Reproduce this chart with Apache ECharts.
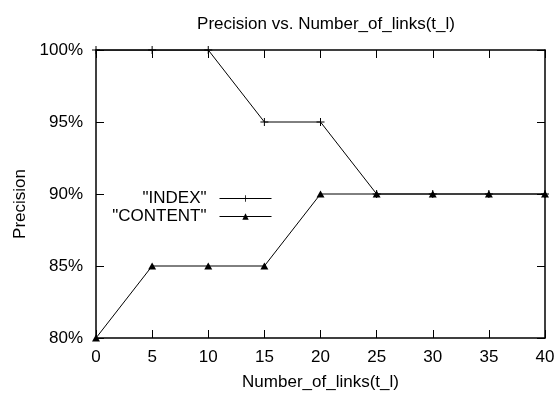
<!DOCTYPE html>
<html>
<head>
<meta charset="utf-8">
<script src="https://cdn.jsdelivr.net/npm/echarts@6/dist/echarts.min.js"></script>
<style>
  html, body { margin: 0; padding: 0; background: #fff; }
  #chart { width: 558px; height: 396px; }
</style>
</head>
<body>
<div id="chart"></div>
<script>
// number of links (t_l)
const links = [0, 5, 10, 15, 20, 25, 30, 35, 40]
const indexPrecision = [100, 100, 100, 95, 95, 90, 90, 90, 90]
const contentPrecision = [80, 85, 85, 85, 90, 90, 90, 90, 90]

const FONT = 'Liberation Sans, Arial, Helvetica, sans-serif'
const FS = 17
const PLUS = 'path://M0,3.5H8V4.5H0Z M3.5,0H4.5V8H3.5Z'

const chart = echarts.init(document.getElementById('chart'))

const pairs = (ys) => links.map((x, i) => [x, ys[i]])

const axisBase = {
  axisLine: { show: true, onZero: false, lineStyle: { color: '#000', width: 1.5 } },
  axisTick: { show: true, inside: true, length: 8, lineStyle: { color: '#000', width: 1 } },
  splitLine: { show: false }
}

chart.setOption({
  backgroundColor: '#fff',
  animation: false,
  textStyle: { fontFamily: FONT },
  title: {
    text: 'Precision vs. Number_of_links(t_l)',
    left: 321,
    top: 11,
    textAlign: 'center',
    textStyle: { fontFamily: FONT, fontSize: FS, fontWeight: 'normal', color: '#000' }
  },
  legend: {
    orient: 'vertical',
    right: 281,
    top: 185,
    align: 'right',
    itemWidth: 52,
    itemHeight: 8,
    itemGap: 1,
    selectedMode: false,
    lineStyle: { width: 1, color: '#000' },
    textStyle: { fontFamily: FONT, fontSize: FS, color: '#000', padding: [0, 8, 0, 0] },
    data: ['"INDEX"', '"CONTENT"']
  },
  grid: { left: 96, right: 13, top: 50, bottom: 54 },
  xAxis: [
    Object.assign({}, axisBase, {
      type: 'value',
      min: 0,
      max: 40,
      interval: 5,
      position: 'bottom',
      name: 'Number_of_links(t_l)',
      nameLocation: 'middle',
      nameGap: 36,
      nameTextStyle: { fontFamily: FONT, fontSize: FS, color: '#000' },
      axisLabel: { fontFamily: FONT, fontSize: FS, color: '#000', margin: 11 }
    }),
    Object.assign({}, axisBase, {
      type: 'value',
      min: 0,
      max: 40,
      interval: 5,
      position: 'top',
      axisLabel: { show: false }
    })
  ],
  yAxis: [
    Object.assign({}, axisBase, {
      type: 'value',
      min: 80,
      max: 100,
      interval: 5,
      position: 'left',
      name: 'Precision',
      nameLocation: 'middle',
      nameGap: 67,
      nameTextStyle: { fontFamily: FONT, fontSize: FS, color: '#000', padding: [0, 20, 0, 0] },
      axisLabel: { fontFamily: FONT, fontSize: FS, color: '#000', margin: 13, formatter: '{value}%' }
    }),
    Object.assign({}, axisBase, {
      type: 'value',
      min: 80,
      max: 100,
      interval: 5,
      position: 'right',
      axisLabel: { show: false }
    })
  ],
  series: [
    {
      name: '"INDEX"',
      type: 'line',
      data: pairs(indexPrecision),
      symbol: PLUS,
      symbolSize: 8,
      showAllSymbol: true,
      itemStyle: { color: '#000' },
      lineStyle: { color: '#000', width: 1 },
      z: 3
    },
    {
      name: '"CONTENT"',
      type: 'line',
      data: pairs(contentPrecision),
      symbol: 'triangle',
      symbolSize: [8, 7],
      showAllSymbol: true,
      itemStyle: { color: '#000' },
      lineStyle: { color: '#000', width: 1 },
      z: 2
    }
  ]
})
</script>
</body>
</html>
